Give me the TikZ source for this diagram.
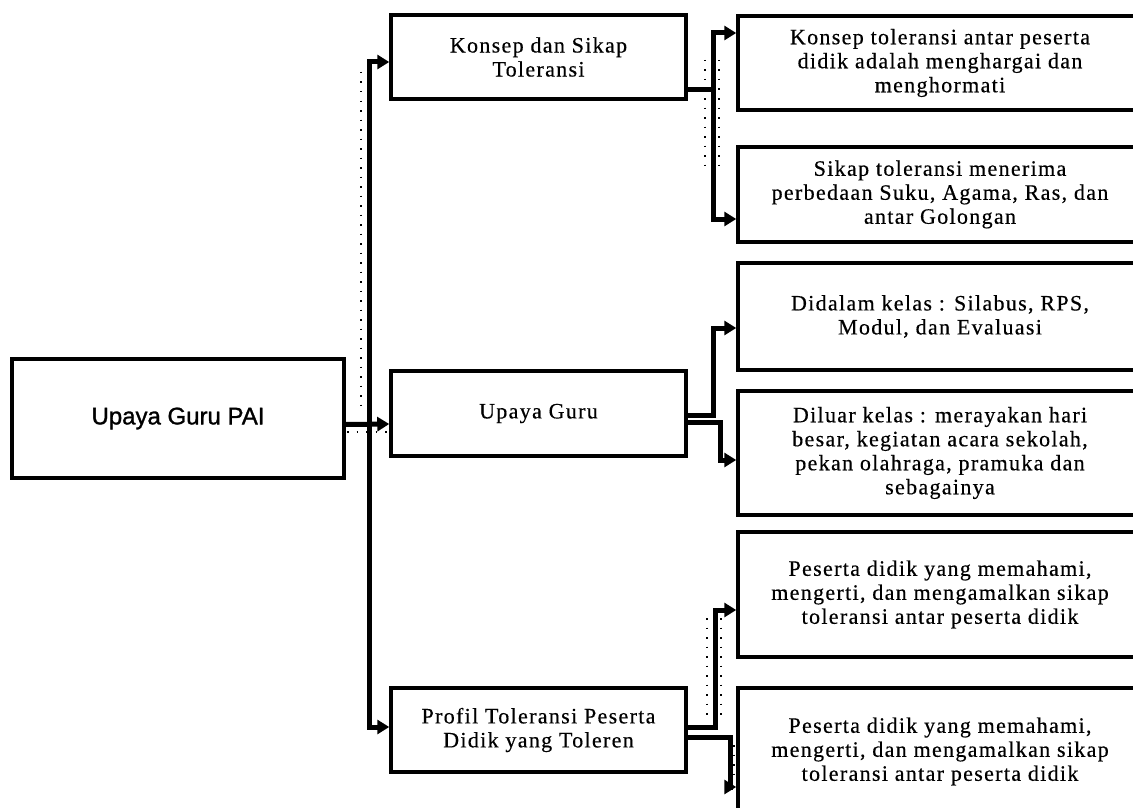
\documentclass[tikz,border=0pt]{standalone}
\usepackage{fontspec}
\usepackage{tikz}
\usetikzlibrary{arrows.meta}
\newfontfamily\boxfont{Liberation Serif}[LetterSpace=6, FakeBold=0.4]
\newfontfamily\rootfont{Liberation Sans}[FakeBold=1.2]

\tikzset{
    box/.style={draw, line width=3.5pt, align=center, inner sep=0pt,
        font=\boxfont\fontsize{22}{24}\selectfont},
    midbox/.style={box, minimum width=295pt, minimum height=84pt},
    leafbox/.style={box, minimum width=404pt},
    link/.style={line width=5pt, -{Triangle[length=12pt,width=14pt]}},
    ghost/.style={line width=1.5pt, dash pattern=on 1.5pt off 8pt}
}

\begin{document}
\begin{tikzpicture}[x=1pt, y=-1pt]
    \useasboundingbox (0,0) rectangle (1133,808);
    \begin{scope}
    \clip (0,0) rectangle (1133,808);

    % root
    \node[box, font=\rootfont\fontsize{24}{28}\selectfont,
        minimum width=332pt, minimum height=119pt] (root) at (178,418.5) {Upaya Guru PAI};

    % second column
    \node[midbox] (konsep) at (538.5,57) {Konsep dan Sikap\\Toleransi};
    \node[midbox, minimum height=85pt] (upaya) at (538.5,413.5) {Upaya Guru};
    \node[midbox] (profil) at (538.5,730) {Profil Toleransi Peserta\\Didik yang Toleren};

    % third column
    \node[leafbox, minimum height=94pt] (konsepA) at (940,63)
        {Konsep toleransi antar peserta\\didik adalah menghargai dan\\menghormati};
    \node[leafbox, minimum height=95pt] (konsepB) at (940,194.5)
        {Sikap toleransi menerima\\perbedaan Suku, Agama, Ras, dan\\antar Golongan};
    \node[leafbox, minimum height=107pt] (upayaA) at (940,316.5)
        {Didalam kelas : Silabus, RPS,\\Modul, dan Evaluasi};
    \node[leafbox, minimum height=124pt] (upayaB) at (940,453)
        {Diluar kelas : merayakan hari\\besar, kegiatan acara sekolah,\\pekan olahraga, pramuka dan\\sebagainya};
    \node[leafbox, minimum height=125pt] (profilA) at (940,594.5)
        {Peserta didik yang memahami,\\mengerti, dan mengamalkan sikap\\toleransi antar peserta didik};
    \node[leafbox, minimum height=127pt] (profilB) at (940,751.5)
        {Peserta didik yang memahami,\\mengerti, dan mengamalkan sikap\\toleransi antar peserta didik};

    % dotted traces beside the connectors
    \foreach \gx/\ya/\yb in {361/72/410, 705/60/170, 719/60/170,
            707/618/722, 721/618/722, 734/745/780} {
        \draw[ghost] (\gx,\ya) -- (\gx,\yb);
    }
    \draw[ghost] (347,432) -- (390,432);

    % root to second column
    \draw[link] ([yshift=-6pt]root.east) -- ++(24,0) |- ([yshift=-5pt]konsep.west);
    \draw[link] ([yshift=-6pt]root.east) -- ([yshift=-10.5pt]upaya.west);
    \draw[link] ([yshift=-6pt]root.east) -- ++(24,0) |- ([yshift=3pt]profil.west);

    % second column to third column
    \draw[link] ([yshift=-33pt]konsep.east) -- ++(26,0) |- ([yshift=30pt]konsepA.west);
    \draw[link] ([yshift=-33pt]konsep.east) -- ++(26,0) |- ([yshift=-24.5pt]konsepB.west);
    \draw[link] ([yshift=-1.5pt]upaya.east) -- ++(26,0) |- ([yshift=-11.5pt]upayaA.west);
    \draw[link] ([yshift=-8.5pt]upaya.east) -- ++(33,0) |- ([yshift=-7pt]upayaB.west);
    \draw[link] ([yshift=3pt]profil.east) -- ++(28,0) |- ([yshift=-15.5pt]profilA.west);
    \draw[link] ([yshift=-7pt]profil.east) -- ++(43,0) |- ([yshift=-35.5pt]profilB.west);
    \end{scope}
\end{tikzpicture}
\end{document}
